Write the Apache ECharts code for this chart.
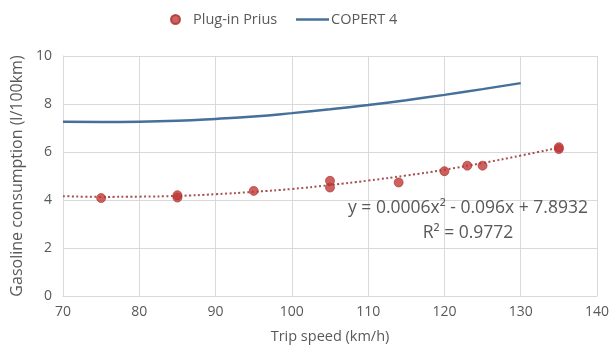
<!DOCTYPE html>
<html>
<head>
<meta charset="utf-8">
<script src="https://cdn.jsdelivr.net/npm/echarts@6/dist/echarts.min.js"></script>
<style>
  html, body { margin: 0; padding: 0; background: #fff; }
  #chart { width: 613px; height: 358px; }
</style>
</head>
<body>
<div id="chart"></div>
<script>
// Measured trips of the plug-in Prius: [speed km/h, consumption l/100km]
const priusSpeed = [75, 85, 85, 95, 105, 105, 114, 120, 123, 125, 135, 135];
const priusFuel  = [4.08, 4.1, 4.2, 4.38, 4.52, 4.8, 4.73, 5.2, 5.43, 5.43, 6.12, 6.2];

// COPERT 4 emission-model curve
const copertSpeed = [70, 75, 80, 85, 90, 95, 100, 105, 110, 115, 120, 125, 130];
const copertFuel  = [7.26, 7.25, 7.26, 7.3, 7.38, 7.48, 7.62, 7.78, 7.96, 8.16, 8.38, 8.62, 8.87];

// Polynomial trendline through the Prius trips
const trendSpeed = [70, 75, 80, 85, 90, 95, 100, 105, 110, 115, 120, 125, 130, 135];
const trendFuel  = [4.16, 4.13, 4.14, 4.17, 4.24, 4.34, 4.46, 4.62, 4.81, 5.02, 5.26, 5.54, 5.85, 6.18];

const xTicks = [70, 140, 10];   // min, max, interval
const yTicks = [0, 10, 2];

const trendLabel = ['y = 0.0006x\u00B2 - 0.096x + 7.8932', 'R\u00B2 = 0.9772'];

const zip = (xs, ys) => xs.map((x, i) => [x, ys[i]]);

const font = '"Open Sans", "Noto Sans", sans-serif';
const textColor = '#595959';
const gridColor = '#D9D9D9';
const red = '#C03A36';
const blue = '#44709A';

const chart = echarts.init(document.getElementById('chart'), null, { renderer: 'canvas' });

const legendText = { fontFamily: font, fontSize: 14.5, color: textColor };

chart.setOption({
  animation: false,
  backgroundColor: '#fff',
  textStyle: { fontFamily: font },
  grid: { left: 63, right: 16, top: 56, bottom: 62, containLabel: false },
  legend: [
    {
      top: 7,
      left: 165,
      itemWidth: 9,
      itemHeight: 9,
      textStyle: Object.assign({ padding: [0, 0, 0, 8] }, legendText),
      data: [{ name: 'Plug-in Prius', icon: 'circle' }]
    },
    {
      top: 7,
      left: 291,
      itemWidth: 33,
      itemHeight: 10,
      textStyle: Object.assign({ padding: [0, 0, 0, -3] }, legendText),
      data: [{ name: 'COPERT 4', icon: 'path://M0,0 H33 V2.5 H0 Z' }]
    }
  ],
  xAxis: {
    type: 'value',
    min: xTicks[0], max: xTicks[1], interval: xTicks[2],
    name: 'Trip speed (km/h)',
    nameLocation: 'middle',
    nameGap: 33,
    nameTextStyle: { fontFamily: font, fontSize: 14.5, color: textColor },
    axisLine: { show: true, lineStyle: { color: gridColor } },
    axisTick: { show: false },
    axisLabel: { fontFamily: font, fontSize: 14, color: textColor, margin: 9 },
    splitLine: { show: true, lineStyle: { color: gridColor } }
  },
  yAxis: {
    type: 'value',
    min: yTicks[0], max: yTicks[1], interval: yTicks[2],
    name: 'Gasoline consumption (l/100km)',
    nameLocation: 'middle',
    nameGap: 37,
    nameTextStyle: { fontFamily: font, fontSize: 16, color: textColor },
    axisLine: { show: true, lineStyle: { color: gridColor } },
    axisTick: { show: false },
    axisLabel: { fontFamily: font, fontSize: 14, color: textColor, margin: 11 },
    splitLine: { show: true, lineStyle: { color: gridColor } }
  },
  series: [
    {
      name: 'COPERT 4',
      type: 'line',
      data: zip(copertSpeed, copertFuel),
      smooth: true,
      symbol: 'none',
      lineStyle: { color: blue, width: 2.5 },
      itemStyle: { color: blue },
      z: 3
    },
    {
      name: 'trend',
      type: 'line',
      data: zip(trendSpeed, trendFuel),
      smooth: true,
      symbol: 'none',
      lineStyle: { color: '#A5504C', width: 2, type: [2, 2.5] },
      z: 2
    },
    {
      name: 'Plug-in Prius',
      type: 'scatter',
      data: zip(priusSpeed, priusFuel),
      symbol: 'circle',
      symbolSize: 9,
      itemStyle: { color: red, borderColor: '#A82E2E', borderWidth: 0.8 },
      z: 4
    }
  ],
  graphic: trendLabel.map((t, i) => ({
    type: 'text',
    x: 468,
    y: 208 + i * 25,
    z: 10,
    style: {
      text: t,
      align: 'center',
      verticalAlign: 'middle',
      fontFamily: font,
      fontSize: 17.5,
      fill: textColor
    }
  }))
});
</script>
</body>
</html>
